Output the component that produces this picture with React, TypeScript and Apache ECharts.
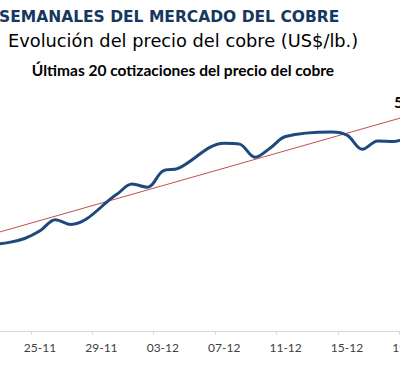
import React, { useEffect, useRef } from "react";
import * as echarts from "echarts";

// Copper price quotes (US$/lb), LME, trading days
const quoteDates = [
  "2020-11-20", "2020-11-23", "2020-11-24", "2020-11-25", "2020-11-26", "2020-11-27",
  "2020-11-30", "2020-12-01", "2020-12-02", "2020-12-03", "2020-12-04",
  "2020-12-07", "2020-12-08", "2020-12-09", "2020-12-10", "2020-12-11",
  "2020-12-14", "2020-12-15", "2020-12-16", "2020-12-17", "2020-12-18",
  "2020-12-21",
];
const copperPrices = [
  3.259, 3.277, 3.289, 3.313, 3.348, 3.333,
  3.427, 3.459, 3.449, 3.5, 3.508,
  3.587, 3.584, 3.543, 3.572, 3.608,
  3.622, 3.612, 3.568, 3.594, 3.592,
  3.684,
];

// Linear trend line end points (as drawn in the reference)
const trendDates = ["2020-11-20", "2020-12-21"];
const trendValues = [3.277, 3.7];

// Axis tick labels (DD-MM, year 2020)
const tickLabels = ["25-11", "29-11", "03-12", "07-12", "11-12", "15-12", "19-12"];

const titleTop = "SEMANALES DEL MERCADO DEL COBRE";
const titleMain = "Evolución del precio del cobre (US$/lb.)";
const titleSub = "Últimas 20 cotizaciones del precio del cobre";
const cornerLabel = "5";

const DAY = 86400000;
const baseTime = Date.UTC(2020, 10, 25);
const dayOffset = (iso: string) => Math.round((Date.parse(iso) - baseTime) / DAY);
const labelOffset = (lbl: string) => {
  const [dd, mm] = lbl.split("-").map(Number);
  return Math.round((Date.UTC(2020, mm - 1, dd) - baseTime) / DAY);
};

export default function App() {
  const ref = useRef<HTMLDivElement>(null);
  useEffect(() => {
    if (!ref.current) return;
    const chart = echarts.init(ref.current, null, { renderer: "svg" });
    const labelDays = tickLabels.map(labelOffset);
    const labelMap: Record<string, string> = {};
    tickLabels.forEach((l, i) => (labelMap[String(labelDays[i])] = l));
    const tickDays = [labelDays[0] - 4, ...labelDays].map((d) => d - 0.6);

    chart.setOption({
      animation: false,
      backgroundColor: "#ffffff",
      grid: {
        left: -44.4,
        right: -46.8,
        top: 107,
        bottom: 34,
        containLabel: false,
        outerBoundsMode: "none",
      },
      xAxis: {
        type: "value",
        min: -5.5,
        max: 26.5,
        axisLine: { show: true, lineStyle: { color: "#d9d9d9", width: 1 } },
        axisTick: {
          show: true,
          customValues: tickDays,
          length: 4,
          lineStyle: { color: "#d9d9d9", width: 1 },
        },
        splitLine: { show: false },
        axisLabel: {
          customValues: labelDays,
          formatter: (v: number) => labelMap[String(Math.round(v))] ?? "",
          fontFamily: "Lato",
          fontSize: 12,
          color: "#404040",
          margin: 10,
        },
      },
      yAxis: {
        type: "value",
        min: 3.0,
        max: 3.7,
        show: false,
        splitLine: { show: false },
      },
      series: [
        {
          type: "line",
          data: trendDates.map((d, i) => [dayOffset(d), trendValues[i]]),
          symbol: "none",
          lineStyle: { color: "#C0504D", width: 1 },
          z: 2,
          silent: true,
        },
        {
          type: "line",
          data: quoteDates.map((d, i) => [dayOffset(d), copperPrices[i]]),
          smooth: 0.35,
          symbol: "none",
          lineStyle: { color: "#1F497D", width: 3 },
          z: 3,
          silent: true,
        },
      ],
      graphic: [
        {
          type: "text",
          x: -1,
          y: 17,
          style: {
            text: titleTop,
            fontFamily: "DejaVu Sans",
            fontWeight: "bold",
            fontSize: 15.5,
            fill: "#17375E",
            align: "left",
            verticalAlign: "middle",
          },
        },
        {
          type: "text",
          x: 8,
          y: 40,
          style: {
            text: titleMain,
            fontFamily: "DejaVu Sans",
            fontSize: 17.8,
            fill: "#000000",
            align: "left",
            verticalAlign: "middle",
          },
        },
        {
          type: "text",
          x: 183,
          y: 70,
          style: {
            text: titleSub,
            fontFamily: "Lato",
            fontWeight: "bold",
            fontSize: 15.5,
            fill: "#000000",
            align: "center",
            verticalAlign: "middle",
          },
        },
        {
          type: "text",
          x: 394,
          y: 101,
          style: {
            text: cornerLabel,
            fontFamily: "Lato",
            fontWeight: "bold",
            fontSize: 16,
            fill: "#000000",
            align: "left",
            verticalAlign: "middle",
          },
        },
      ],
    });
    return () => chart.dispose();
  }, []);
  return <div ref={ref} style={{ width: 400, height: 365, position: "absolute", left: 0, top: 0 }} />;
}
